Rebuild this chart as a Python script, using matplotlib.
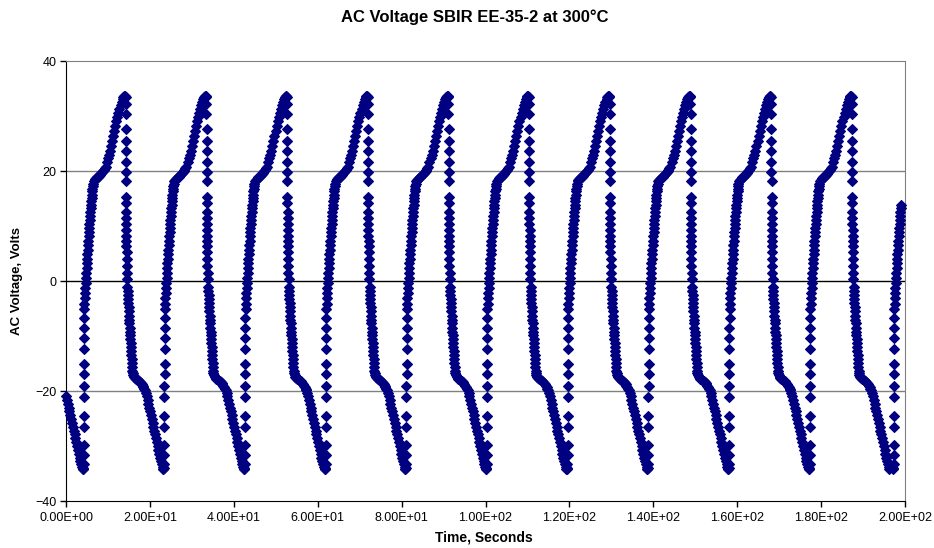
import matplotlib
matplotlib.use("Agg")
import matplotlib.pyplot as plt
from matplotlib.ticker import FuncFormatter
import numpy as np

# one cycle of the waveform, time in seconds measured from a trough
cycle_t = [
    0.00, 0.10, 0.18,
    # fast jump up (sparse dots)
    0.21, 0.22, 0.23, 0.24, 0.25, 0.26, 0.27, 0.28, 0.29, 0.30, 0.31, 0.32,
    # steep rise
    0.34, 0.41, 0.48, 0.55, 0.62, 0.69, 0.76, 0.83, 0.90, 0.97, 1.04,
    1.11, 1.18, 1.25, 1.32, 1.39, 1.46, 1.53, 1.60, 1.67, 1.74, 1.81,
    1.88, 1.95, 2.02, 2.09, 2.16, 2.23, 2.30, 2.37, 2.44,
    # knee near +18 V
    2.60, 2.80, 3.00, 3.20, 3.40, 3.60, 3.80, 4.00, 4.20, 4.40, 4.60,
    4.80, 5.00, 5.25, 5.50,
    # slow rise to the peak
    5.75, 6.00, 6.25, 6.50, 6.75, 7.00, 7.25, 7.50, 7.75, 8.00, 8.25,
    8.50, 8.75, 9.00, 9.25, 9.50, 9.70, 9.90, 10.05, 10.20,
    # fast jump down (sparse dots)
    10.26, 10.27, 10.28, 10.29, 10.30, 10.31, 10.32, 10.33, 10.34,
    10.35, 10.36, 10.37, 10.38, 10.39, 10.40, 10.41, 10.42, 10.43,
    # steep fall
    10.45, 10.50, 10.55, 10.60, 10.65, 10.70, 10.75, 10.80, 10.85,
    10.90, 10.95, 11.00, 11.05, 11.11, 11.17, 11.23, 11.29, 11.35,
    11.41, 11.47, 11.53, 11.59, 11.65, 11.71, 11.77, 11.83, 11.89,
    # knee near -18 V
    12.05, 12.25, 12.45, 12.65, 12.85, 13.05, 13.25, 13.45, 13.65,
    13.85, 14.05, 14.25, 14.45, 14.65, 14.85, 15.05,
    # slow fall to the trough
    15.25, 15.45, 15.65, 15.85, 16.05, 16.25, 16.45, 16.65, 16.85,
    17.05, 17.25, 17.45, 17.65, 17.85, 18.05, 18.25, 18.45, 18.65,
    18.85, 19.05, 19.20,
]

cycle_v = [
    -34.2, -34.0, -33.3,
    -31.7, -29.9, -26.6, -24.5, -21.1, -19.0, -16.9, -15.1, -12.4,
    -10.3, -8.5, -6.7,
    -5.0, -4.1, -3.1, -2.2, -1.2, -0.3, 0.6, 1.5, 2.4, 3.2, 4.0,
    4.9, 5.7, 6.5, 7.3, 8.1, 8.9, 9.6, 10.4, 11.1, 11.8, 12.5,
    13.2, 13.8, 14.5, 15.1, 15.7, 16.3, 16.8, 17.3, 17.7,
    18.1, 18.4, 18.6, 18.8, 18.9, 19.0, 19.1, 19.2, 19.4, 19.6, 19.8,
    20.0, 20.2, 20.5, 20.8,
    21.6, 22.3, 23.0, 23.7, 24.5, 25.4, 26.3, 27.2, 28.1, 29.0, 29.8,
    30.6, 31.3, 32.0, 32.6, 33.1, 33.4, 33.6, 33.7, 33.5,
    32.2, 30.4, 27.7, 25.5, 23.7, 21.6, 19.8, 18.2, 15.3,
    14.2, 12.6, 11.4, 10.3, 9.2, 8.2, 7.3, 6.3, 5.2,
    4.0, 2.8, 1.5, 0.3, -1.0, -1.8, -2.5, -3.3, -4.0,
    -4.8, -5.5, -6.3, -7.0, -7.7, -8.5, -9.2, -9.9, -10.6,
    -11.3, -12.0, -12.7, -13.4, -14.2, -14.9, -15.6, -16.3, -16.8,
    -17.1, -17.4, -17.6, -17.8, -17.9, -18.0, -18.1, -18.2, -18.4,
    -18.6, -18.8, -19.0, -19.3, -19.6, -19.9, -20.3,
    -20.9, -21.6, -22.3, -23.0, -23.7, -24.4, -25.1, -25.8, -26.5,
    -27.2, -27.9, -28.6, -29.3, -30.0, -30.7, -31.4, -32.1, -32.7,
    -33.3, -33.8, -34.1,
]

# trough times (first one is the cycle cut at t = 0)
trough_times = [-15.22, 4.00, 23.22, 42.45, 61.70, 80.90, 100.10,
                119.35, 138.60, 157.85, 177.10, 197.10]
last_sample = 199.1

x_ticks = [0, 20, 40, 60, 80, 100, 120, 140, 160, 180, 200]
y_ticks = [-40, -20, 0, 20, 40]


def main():
    plt.rcParams['font.family'] = ['Liberation Sans', 'DejaVu Sans']

    ct = np.array(cycle_t)
    cv = np.array(cycle_v)
    time = np.concatenate([ct + t0 for t0 in trough_times])
    volts = np.concatenate([cv for _ in trough_times])
    keep = (time >= 0) & (time <= last_sample)
    time, volts = time[keep], volts[keep]

    fig = plt.figure(figsize=(9.34, 5.48), dpi=100)
    ax = fig.add_axes([66 / 934, 47 / 548, 839 / 934, 440 / 548])

    for y in (-20, 20):
        ax.axhline(y, color='#808080', linewidth=1, zorder=1)
    ax.axhline(0, color='black', linewidth=1, zorder=1)

    ax.plot(time, volts, linestyle='none', marker='D', markersize=5.0,
            color='#000080', markeredgewidth=0.8, zorder=3, clip_on=False)

    ax.set_xlim(0, 200)
    ax.set_ylim(-40, 40)
    ax.set_xticks(x_ticks)
    ax.set_yticks(y_ticks)
    ax.xaxis.set_major_formatter(FuncFormatter(lambda v, p: f"{v:.2E}"))
    ax.tick_params(axis='both', direction='out', length=4, width=1,
                   labelsize=9, colors='black')
    ax.tick_params(axis='x', pad=4)
    ax.tick_params(axis='y', pad=3)

    for side in ('top', 'right'):
        ax.spines[side].set_color('#808080')
    for side in ('left', 'bottom'):
        ax.spines[side].set_color('black')

    fig.text(475 / 934, 1 - 17 / 548, 'AC Voltage SBIR EE-35-2 at 300°C',
             ha='center', va='center', fontsize=12, fontweight='bold')
    fig.text(484 / 934, 1 - 538 / 548, 'Time, Seconds',
             ha='center', va='center', fontsize=10, fontweight='bold')
    fig.text(17 / 934, 1 - 281 / 548, 'AC Voltage, Volts', rotation=90,
             ha='center', va='center', fontsize=9.5, fontweight='bold')

    fig.savefig('out.png', dpi=100)


if __name__ == "__main__":
    main()
